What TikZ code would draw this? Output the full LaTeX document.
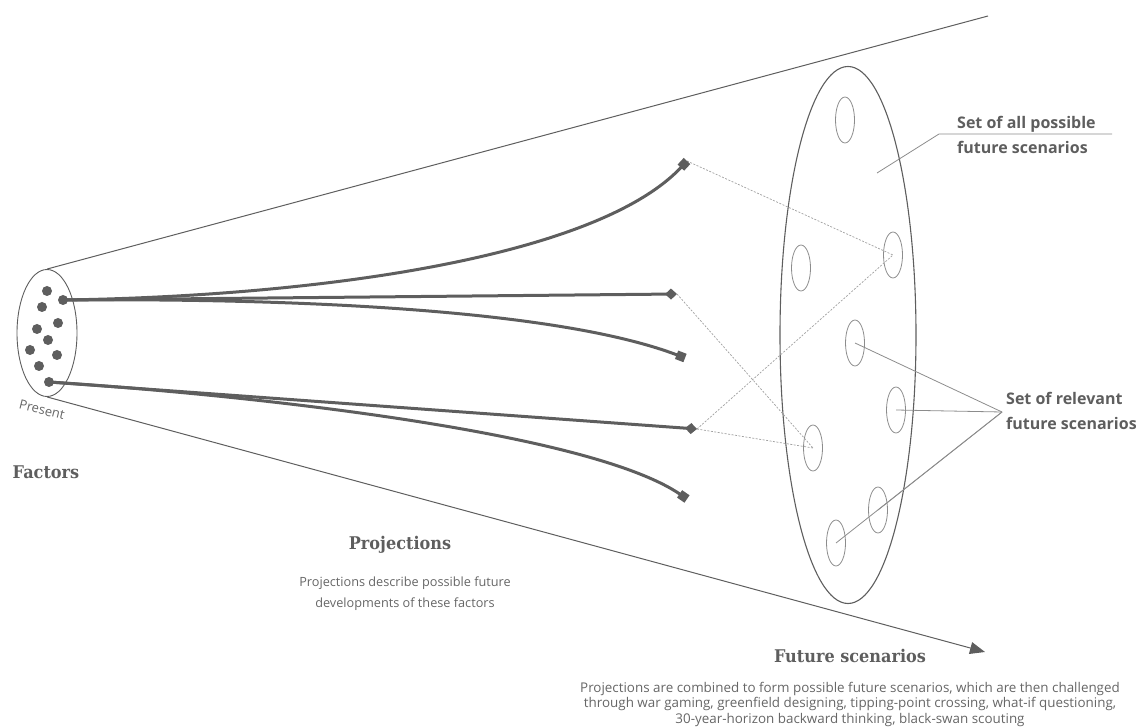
\documentclass[tikz,border=0pt]{standalone}
\usepackage{fontspec}
\setmainfont{Open Sans}
\newfontfamily\headfont[FakeStretch=0.92]{DejaVu Serif}
\usetikzlibrary{shapes.geometric,arrows.meta}
\definecolor{dg}{HTML}{5E5E5E}
\definecolor{txtg}{HTML}{666666}
\definecolor{lg}{HTML}{8C8C8C}
\definecolor{dashg}{HTML}{A0A0A0}
\tikzset{
  dot/.style={circle,fill=dg,draw=none,inner sep=0pt,minimum size=10pt},
  scen/.style={ellipse,draw=lg,line width=0.8pt,inner sep=0pt,minimum width=19pt,minimum height=46pt},
  proj/.style={draw=dg,line width=3pt},
  sqtip/.style={-{Square[length=9pt,width=9pt]}},
  dmtip/.style={-{Diamond[length=12pt,width=11pt]}},
  cone/.style={draw=dg,line width=1pt},
  link/.style={draw=dashg,line width=0.7pt,dash pattern=on 2pt off 1.5pt},
  leader/.style={draw=lg,line width=0.8pt},
  head/.style={font=\headfont\bfseries\fontsize{17.5}{20}\selectfont,text=dg,inner sep=0pt},
  body/.style={font=\fontsize{13.4}{15.5}\selectfont,text=txtg,align=center,inner sep=0pt},
  lab/.style={font=\bfseries\fontsize{16}{24.5}\selectfont,text=dg,align=left,inner sep=0pt,anchor=west}
}
\begin{document}
\begin{tikzpicture}[x=1pt,y=-1pt]
\useasboundingbox (0,0) rectangle (1136,727);

% present ellipse and cone
\node[ellipse,draw=dg,line width=0.9pt,inner sep=0pt,minimum width=60pt,minimum height=127pt] (pres) at (47,333) {};
\coordinate (topend) at (988,16);
\coordinate (botend) at (985,652);
\draw[cone] (pres.north) -- (topend);
\draw[cone,-{Triangle[length=15pt,width=12pt]}] (pres.south) -- (botend);
\node[font=\fontsize{13}{15}\selectfont,text=txtg,rotate=-14,inner sep=0pt] (preslab) at (42,410) {Present};

% big ellipse
\node[ellipse,draw=dg,line width=1.1pt,inner sep=0pt,minimum width=136pt,minimum height=537pt] (big) at (848,335) {};

% scenario ellipses
\node[scen] (c1) at (845,120) {};
\node[scen] (c2) at (893,255) {};
\node[scen] (c3) at (801,268) {};
\node[scen] (c4) at (855,343) {};
\node[scen] (c5) at (896,410) {};
\node[scen] (c6) at (813,448) {};
\node[scen] (c7) at (878,510) {};
\node[scen] (c8) at (836,543) {};

% factor dots
\node[dot] (f1) at (47,291) {};
\node[dot] (f2) at (63,300) {};
\node[dot] (f3) at (42,307) {};
\node[dot] (f4) at (58,323) {};
\node[dot] (f5) at (37,329) {};
\node[dot] (f6) at (48,340) {};
\node[dot] (f7) at (30,350) {};
\node[dot] (f8) at (57,355) {};
\node[dot] (f9) at (39,366) {};
\node[dot] (f10) at (49,382) {};

% projection ends
\coordinate (e1) at (687,161);
\coordinate (e2) at (677,294);
\coordinate (e3) at (685,358);
\coordinate (e4) at (697,429);
\coordinate (e5) at (687,499);

% dashed combination links
\draw[link] (e1) -- (c2.center);
\draw[link] (e2) -- (c6.center);
\draw[link] (e4) -- (c2.center);
\draw[link] (e4) -- (c6.center);

% projections
\draw[proj,sqtip] (f2.center) .. controls (330,296) and (600,255) .. (e1);
\draw[proj,dmtip] (f2.center) -- (e2);
\draw[proj,sqtip] (f2.center) .. controls (300,298) and (560,310) .. (e3);
\draw[proj,dmtip] (f10.center) -- (e4);
\draw[proj,sqtip] (f10.center) .. controls (250,395) and (590,432) .. (e5);

% labels: all possible
\coordinate (allin) at (877,173);
\coordinate (allk) at (939,134);
\coordinate (allr) at (1112,134);
\draw[leader] (allin) -- (allk) -- (allr);
\node[lab] (alllab) at (957,135) {Set of all possible\\future scenarios};

% labels: relevant
\coordinate (rj) at (1002,412);
\draw[leader] (rj) -- (c4.center);
\draw[leader] (rj) -- (c5.center);
\draw[leader] (rj) -- (c7.center);
\draw[leader] (rj) -- (c8.center);
\node[lab] (rellab) at (1006,411) {Set of relevant\\future scenarios};

% headings and texts
\node[head] (factors) at (46,472) {Factors};
\node[head] (projh) at (400,545) {Projections};
\node[body,font=\fontsize{12.7}{21}\selectfont] (projt) at (405,594) {Projections describe possible future\\developments of these factors};
\node[head] (futh) at (850,656) {Future scenarios};
\node[body,anchor=north] (futt) at (850,682) {Projections are combined to form possible future scenarios, which are then challenged\\through war gaming, greenfield designing, tipping-point crossing, what-if questioning,\\30-year-horizon backward thinking, black-swan scouting};
\end{tikzpicture}
\end{document}
